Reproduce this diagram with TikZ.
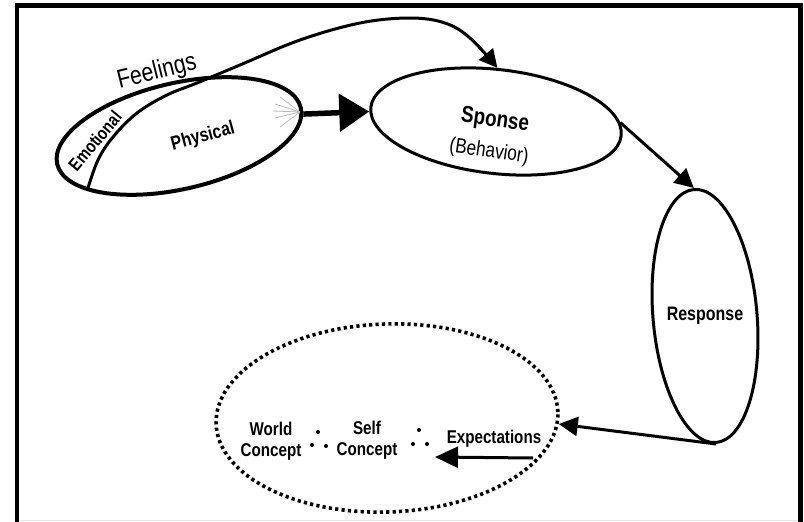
\documentclass[tikz,border=0pt]{standalone}
\usepackage{fontspec}
\setmainfont{Liberation Sans}
\newfontfamily\narrowsans[FakeStretch=0.82]{Liberation Sans}
\usetikzlibrary{shapes.geometric,arrows.meta}

\begin{document}
\begin{tikzpicture}[x=1pt,y=-1pt,
  oval/.style={draw,ellipse,inner sep=0pt,line width=3pt},
  lbl/.style={inner sep=0pt,align=center,font=\narrowsans\bfseries\fontsize{18.5}{21}\selectfont},
  conn/.style={line width=3pt,-{Triangle[length=19pt,width=19pt]}},
  ray/.style={gray!55,line width=0.8pt},
  dotmark/.style={fill=black}
]
\useasboundingbox (0,0) rectangle (804,522);

% open frame round the chart
\draw[line width=4.5pt,line join=miter] (17,522) -- (17,5.7) -- (800.5,5.7) -- (800.5,522);
\draw[gray!20,line width=1pt] (19.5,520.5) -- (798,520.5);

% ovals
\node[oval,line width=4pt,minimum width=250pt,minimum height=106pt,rotate=13] (feel) at (179,136) {};
\node[oval,minimum width=252pt,minimum height=104pt,rotate=-6.5] (sponse) at (496,121.5) {};
\node[oval,minimum width=104pt,minimum height=254pt,rotate=5] (resp) at (705,316) {};
\node[draw,ellipse,inner sep=0pt,line width=3.6pt,dash pattern=on 3.2pt off 3.2pt,
      minimum width=342pt,minimum height=188pt,rotate=2] (world) at (387,418) {};

% labels
\node[lbl,font=\narrowsans\fontsize{26}{28}\selectfont,rotate=14] (tfeel) at (157,72) {Feelings};
\node[lbl,font=\narrowsans\bfseries\fontsize{18}{20}\selectfont,rotate=50] (temo) at (95,141) {Emotional};
\node[lbl,font=\narrowsans\bfseries\fontsize{19.5}{21}\selectfont,rotate=15] (tphys) at (203,137) {Physical};
\node[lbl,font=\narrowsans\bfseries\fontsize{23}{25}\selectfont,rotate=-8] (tsponse) at (495,121) {Sponse};
\node[lbl,font=\narrowsans\fontsize{21}{23}\selectfont,rotate=-8] (tbeh) at (489,152) {(Behavior)};
\node[lbl,font=\narrowsans\bfseries\fontsize{19.5}{21}\selectfont] (tresp) at (705,316) {Response};
\node[lbl] (tworld) at (271,441) {World\\Concept};
\node[lbl] (tself) at (367,440) {Self\\Concept};
\node[lbl] (texp) at (494,439) {Expectations};

% "therefore" marks between the concepts
\foreach \p in {(318,432),(312,445),(326,446),(419,430),(413,444),(427,444)}
  \fill[dotmark] \p circle[radius=2pt];

% emotional divider running on as the feelings arc
\coordinate (emobase) at (88,188);
\draw[line width=3pt,-{Triangle[length=18pt,width=18pt]}]
  plot[smooth,tension=0.6] coordinates {(emobase) (98,160) (113,137) (137,113) (167,95)
    (197,83) (240,65) (300,40) (360,23) (410,18) (445,23) (470,38) (sponse.95)};

% glow lines at the tip of the feelings oval
\coordinate (rayhub) at (300,112);
\foreach \p in {(280,97),(275,104),(273,111),(275,118),(280,127)}
  \draw[ray] \p -- (rayhub);

% connectors
\draw[line width=5.5pt,-{Triangle[length=30pt,width=37pt]}] (feel.-3) -- (sponse.182);
\draw[conn] (sponse.6) -- (resp.north);
\draw[conn] (resp.south) -- (world.-4);
\coordinate (expA) at (533,458);
\coordinate (expB) at (435,457);
\draw[line width=3pt,-{Triangle[length=23pt,width=21pt]}] (expA) -- (expB);
\end{tikzpicture}
\end{document}
